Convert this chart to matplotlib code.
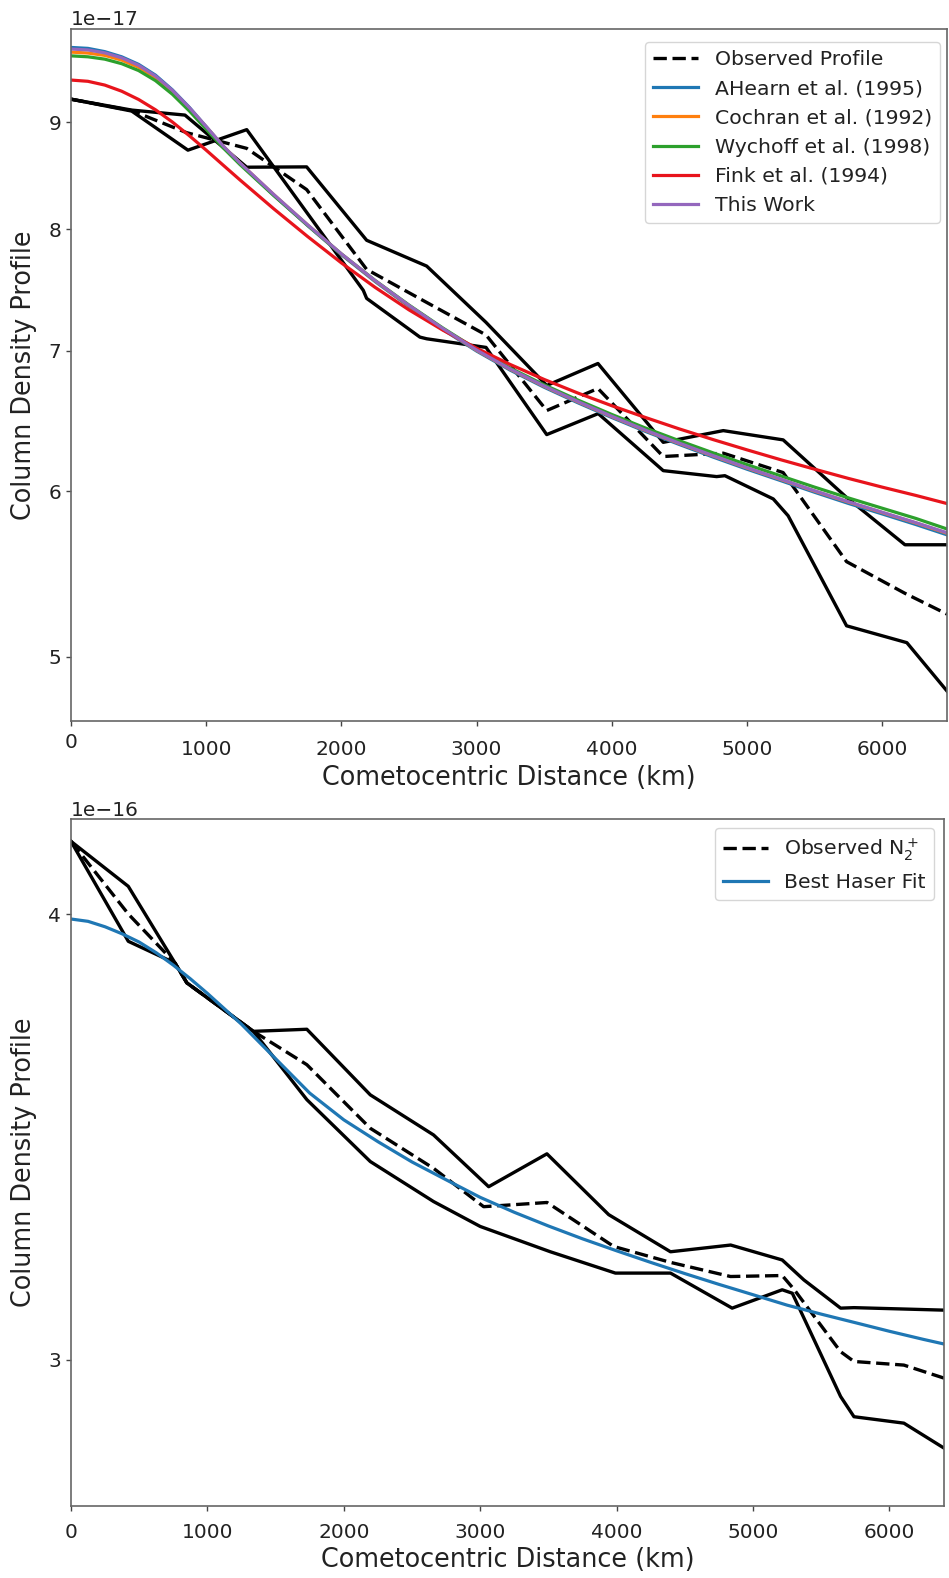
import matplotlib
matplotlib.use('Agg')
import matplotlib.pyplot as plt
import numpy as np
from matplotlib.ticker import NullLocator, FixedLocator, FixedFormatter
from matplotlib.transforms import ScaledTranslation

# ---------------- top panel data (values in units of 1e-17) ----------------
top_scale = 1e-17
x_top_obs = [0, 449, 854, 1300, 1743, 2187, 2631, 3070, 3519, 3898, 4381, 4825, 5268, 5737, 6169, 6480]
y_top_obs = [9.23, 9.115, 8.897, 8.744, 8.357, 7.655, 7.382, 7.123, 6.555, 6.716, 6.232, 6.255, 6.123, 5.552, 5.362, 5.241]

x_top_a = [0, 449, 843, 1300, 1743, 2187, 2631, 3070, 3519, 3898, 4381, 4825, 5268, 5737, 6169, 6480]
y_top_a = [9.23, 9.12, 9.07, 8.565, 8.568, 7.904, 7.683, 7.222, 6.738, 6.903, 6.330, 6.412, 6.347, 5.958, 5.656, 5.656]

x_top_b = [0, 449, 865, 1300, 1743, 2162, 2187, 2581, 2631, 3070, 3519, 3900, 4381, 4776, 4837, 5195, 5305, 5737, 6183, 6480]
y_top_b = [9.23, 9.11, 8.727, 8.926, 8.151, 7.481, 7.415, 7.106, 7.093, 7.026, 6.384, 6.533, 6.136, 6.096, 6.102, 5.948, 5.839, 5.174, 5.079, 4.816]

x_fit_top = [0, 125, 250, 375, 500, 625, 750, 875, 1000, 1125, 1250, 1500, 1750, 2000, 2250, 2500, 2750,
             3000, 3250, 3500, 3750, 4000, 4250, 4500, 4750, 5000, 5250, 5500, 5750, 6000, 6250, 6480]
y_ahearn = [9.77, 9.76, 9.725, 9.67, 9.59, 9.477, 9.325, 9.148, 8.955, 8.765, 8.60, 8.305, 8.033, 7.78,
            7.553, 7.35, 7.166, 6.998, 6.852, 6.725, 6.611, 6.505, 6.406, 6.315, 6.228, 6.146, 6.069,
            5.992, 5.919, 5.851, 5.783, 5.718]
y_cochran = [9.72, 9.71, 9.685, 9.635, 9.56, 9.452, 9.31, 9.138, 8.952, 8.766, 8.603, 8.31, 8.038, 7.785,
             7.559, 7.356, 7.172, 7.004, 6.859, 6.732, 6.618, 6.512, 6.413, 6.322, 6.236, 6.154, 6.077,
             6.0, 5.928, 5.86, 5.793, 5.728]
y_wychoff = [9.68, 9.67, 9.645, 9.597, 9.525, 9.42, 9.28, 9.112, 8.93, 8.75, 8.59, 8.302, 8.036, 7.786,
             7.562, 7.361, 7.178, 7.012, 6.868, 6.743, 6.631, 6.527, 6.43, 6.341, 6.257, 6.177, 6.101,
             6.026, 5.955, 5.888, 5.822, 5.755]
y_fink = [9.426, 9.413, 9.374, 9.311, 9.227, 9.123, 9.001, 8.867, 8.727, 8.585, 8.446, 8.182, 7.937, 7.71,
          7.505, 7.322, 7.161, 7.02, 6.895, 6.783, 6.682, 6.59, 6.505, 6.424, 6.349, 6.278, 6.21,
          6.146, 6.084, 6.026, 5.971, 5.918]
y_thiswork = [9.753, 9.743, 9.712, 9.659, 9.58, 9.468, 9.32, 9.145, 8.956, 8.768, 8.605, 8.312, 8.04, 7.787,
              7.561, 7.358, 7.174, 7.006, 6.861, 6.734, 6.62, 6.514, 6.415, 6.324, 6.238, 6.156, 6.079,
              6.002, 5.93, 5.862, 5.795, 5.731]
top_fit_labels = ['AHearn et al. (1995)', 'Cochran et al. (1992)', 'Wychoff et al. (1998)',
                  'Fink et al. (1994)', 'This Work']
top_yticks = [5, 6, 7, 8, 9]

# ---------------- bottom panel data (values in units of 1e-16) ----------------
bot_scale = 1e-16
x_bot_obs = [0, 420, 763, 849, 1337, 1729, 2194, 2658, 3025, 3490, 3979, 4395, 4835, 5214, 5300, 5642, 5740, 6106, 6400]
y_bot_obs = [4.193, 4.001, 3.876, 3.827, 3.709, 3.630, 3.484, 3.395, 3.312, 3.321, 3.228, 3.195, 3.166, 3.168, 3.14, 3.016, 2.997, 2.99, 2.965]

x_bot_a = [0, 420, 763, 849, 1337, 1729, 2194, 2658, 3062, 3489, 3942, 4395, 4836, 5214, 5373, 5642, 5740, 6400]
y_bot_a = [4.193, 4.073, 3.876, 3.827, 3.709, 3.714, 3.560, 3.469, 3.355, 3.427, 3.295, 3.217, 3.231, 3.200, 3.159, 3.102, 3.103, 3.098]

x_bot_b = [0, 420, 763, 849, 1337, 1729, 2194, 2658, 3000, 3514, 3991, 4395, 4847, 5214, 5288, 5642, 5740, 6106, 6400]
y_bot_b = [4.193, 3.931, 3.876, 3.827, 3.709, 3.549, 3.410, 3.323, 3.270, 3.217, 3.173, 3.173, 3.102, 3.139, 3.132, 2.930, 2.892, 2.880, 2.834]

x_fit_bot = [0, 125, 250, 375, 500, 625, 750, 875, 1000, 1250, 1500, 1750, 2000, 2250, 2500, 2750, 3000,
             3250, 3500, 3750, 4000, 4250, 4500, 4750, 5000, 5250, 5500, 5750, 6000, 6250, 6400]
y_haser = [3.988, 3.982, 3.968, 3.950, 3.929, 3.902, 3.871, 3.837, 3.801, 3.726, 3.644, 3.564, 3.503,
           3.454, 3.409, 3.37, 3.332, 3.30, 3.271, 3.244, 3.219, 3.195, 3.172, 3.15, 3.129, 3.108,
           3.09, 3.073, 3.056, 3.04, 3.031]
bot_yticks = [3, 4]

xticks = [0, 1000, 2000, 3000, 4000, 5000, 6000]

# ---------------- figure ----------------
W, H = 949, 1578
fig = plt.figure(figsize=(W / 100, H / 100), dpi=100)
ax1_w, ax1_h = 876, 692
ax2_w, ax2_h = 873, 687
ax1 = fig.add_axes([71 / W, 1 - 721 / H, ax1_w / W, ax1_h / H])
ax2 = fig.add_axes([71 / W, 1 - 1506 / H, ax2_w / W, ax2_h / H])

fit_colors = ['#1f77b4', '#ff7f0e', '#2ca02c', '#e8141c', '#9467bd']
LW_OBS = 2.4
LW_FIT = 2.3
DASH = (0, (4.0, 1.7))
TICK_FS = 14.5
LABEL_FS = 18.4
LEG_FS = 14.7

# top panel
ax1.plot(x_top_obs, np.array(y_top_obs) * top_scale, color='k', ls=DASH, lw=LW_OBS, label='Observed Profile')
ax1.plot(x_top_a, np.array(y_top_a) * top_scale, color='k', lw=LW_OBS)
ax1.plot(x_top_b, np.array(y_top_b) * top_scale, color='k', lw=LW_OBS)
for ys, c, lab in zip([y_ahearn, y_cochran, y_wychoff, y_fink, y_thiswork], fit_colors, top_fit_labels):
    ax1.plot(x_fit_top, np.array(ys) * top_scale, color=c, lw=LW_FIT, label=lab)

# bottom panel
ax2.plot(x_bot_obs, np.array(y_bot_obs) * bot_scale, color='k', ls=DASH, lw=LW_OBS, label='Observed N$_2^+$')
ax2.plot(x_bot_a, np.array(y_bot_a) * bot_scale, color='k', lw=LW_OBS)
ax2.plot(x_bot_b, np.array(y_bot_b) * bot_scale, color='k', lw=LW_OBS)
ax2.plot(x_fit_bot, np.array(y_haser) * bot_scale, color=fit_colors[0], lw=LW_FIT, label='Best Haser Fit')

for ax, xmax, ylim, yt, sc, off, xpad, anchor in [
        (ax1, 6480, (4.66e-17, 9.97e-17), top_yticks, top_scale, '1e\u221217', 10.5,
         (1 - 7 / ax1_w, 1 - 13 / ax1_h)),
        (ax2, 6400, (2.73e-16, 4.254e-16), bot_yticks, bot_scale, '1e\u221216', 8.5,
         (1 - 10 / ax2_w, 1 - 9 / ax2_h))]:
    ax.set_yscale('log')
    ax.set_xlim(0, xmax)
    ax.set_ylim(*ylim)
    ax.yaxis.set_major_locator(FixedLocator([v * sc for v in yt]))
    ax.yaxis.set_major_formatter(FixedFormatter([str(v) for v in yt]))
    ax.yaxis.set_minor_locator(NullLocator())
    ax.set_xticks(xticks)
    ax.set_xticklabels([str(v) for v in xticks])
    ax.tick_params(labelsize=TICK_FS, length=3.5, width=1.0, color='#444444', labelcolor='#222222')
    ax.tick_params(axis='x', pad=xpad)
    for s in ax.spines.values():
        s.set_color('#666666')
        s.set_linewidth(1.2)
    ax.set_xlabel('Cometocentric Distance (km)', fontsize=LABEL_FS, color='#222222', labelpad=4)
    ax.set_ylabel('Column Density Profile', fontsize=LABEL_FS, color='#222222', labelpad=8)
    t = ax.text(0, 1.0, off, transform=ax.transAxes, fontsize=TICK_FS, ha='left', va='baseline',
                color='#222222')
    t.set_transform(ax.transAxes + ScaledTranslation(0, 3.5 / 100, fig.dpi_scale_trans))
    leg = ax.legend(loc='upper right', bbox_to_anchor=anchor, fontsize=LEG_FS, handlelength=2.2,
                    borderaxespad=0.0)
    for tx in leg.get_texts():
        tx.set_color('#222222')

# the "0" x tick label of the top panel sits a little higher in the reference
fig.canvas.draw()
lab0 = ax1.xaxis.get_major_ticks()[0].label1
lab0.set_transform(lab0.get_transform() + ScaledTranslation(0, 7 / 100, fig.dpi_scale_trans))

fig.savefig('out.png', dpi=100)
